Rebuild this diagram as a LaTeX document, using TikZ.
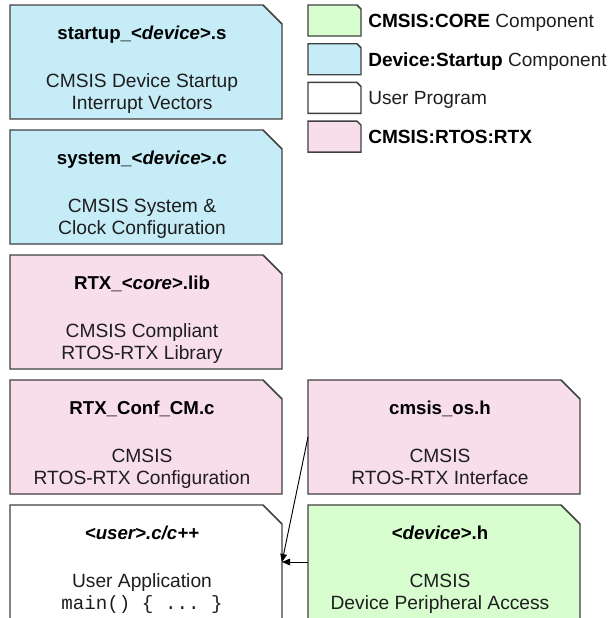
\documentclass[tikz,border=0pt]{standalone}
\usepackage{fontspec}
\setmainfont{Liberation Sans}
\setmonofont{Liberation Mono}
\usetikzlibrary{positioning,arrows.meta}

\definecolor{coreGreen}{RGB}{216,254,208}
\definecolor{startBlue}{RGB}{198,236,248}
\definecolor{rtxPink}{RGB}{248,221,235}
\definecolor{edgeGray}{RGB}{64,64,64}
\definecolor{textGray}{RGB}{30,30,30}

\tikzset{
  filebox/.style={rectangle, minimum width=204pt, minimum height=85.5pt, inner sep=0pt, outer sep=0pt},
  legendbox/.style={filebox, minimum width=39.75pt, minimum height=23.25pt},
  boxline/.style={draw=edgeGray, line width=1.1pt, line join=miter},
  boxtitle/.style={font=\bfseries\fontsize{14}{16.5}\selectfont, inner sep=0pt, anchor=base},
  boxtext/.style={font=\fontsize{14.4}{16.5}\selectfont, text=textGray, align=center, inner sep=0pt, anchor=base},
  legendtext/.style={font=\fontsize{14.3}{16.5}\selectfont, text=textGray, inner sep=0pt, anchor=base west},
  uses/.style={-{Triangle[length=6pt,width=5pt]}, line width=0.7pt, black}
}
% outline with the top right corner cut off
\newcommand{\cutbox}[3][14.25pt]{\filldraw[boxline, fill=#3] (#2.south west) -- (#2.north west)
  -- ([xshift=-#1]#2.north east) -- ([yshift=-#1]#2.north east) -- (#2.south east) -- cycle;}

\begin{document}
\begin{tikzpicture}
\useasboundingbox (0,0) rectangle (460.5pt,-463.5pt);
\clip (0,0) rectangle (460.5pt,-463.5pt);
% left column
\node[filebox] (startup) at (109.5pt,-46.5pt) {};
\node[filebox, below=8.25pt of startup] (system) {};
\node[filebox, below=8.25pt of system] (rtxlib) {};
\node[filebox, below=8.25pt of rtxlib] (rtxconf) {};
\node[filebox, below=8.25pt of rtxconf] (user) {};
% right column
\node[filebox, right=19.5pt of rtxconf] (cmsisos) {};
\node[filebox, right=19.5pt of user] (device) {};
\cutbox{startup}{startBlue}
\cutbox{system}{startBlue}
\cutbox{rtxlib}{rtxPink}
\cutbox{rtxconf}{rtxPink}
\cutbox{user}{white}
\cutbox{cmsisos}{rtxPink}
\cutbox{device}{coreGreen}
% texts
\path ([xshift=-3pt,yshift=-25.5pt]startup.north) node[boxtitle] (startupT) {startup\_<\textit{device}>.s};
\path ([xshift=-3pt,yshift=-78pt]startup.north) node[boxtext] (startupD) {CMSIS Device Startup\\Interrupt Vectors};
\path ([xshift=-3pt,yshift=-25.5pt]system.north) node[boxtitle] (systemT) {system\_<\textit{device}>.c};
\path ([xshift=-3pt,yshift=-78pt]system.north) node[boxtext] (systemD) {CMSIS System \&\\Clock Configuration};
\path ([xshift=-3pt,yshift=-25.5pt]rtxlib.north) node[boxtitle] (rtxlibT) {RTX\_<\textit{core}>.lib};
\path ([xshift=-3pt,yshift=-78pt]rtxlib.north) node[boxtext] (rtxlibD) {CMSIS Compliant\\RTOS-RTX Library};
\path ([xshift=-3pt,yshift=-25.5pt]rtxconf.north) node[boxtitle] (rtxconfT) {RTX\_Conf\_CM.c};
\path ([xshift=-3pt,yshift=-78pt]rtxconf.north) node[boxtext] (rtxconfD) {CMSIS\\RTOS-RTX Configuration};
\path ([xshift=-3pt,yshift=-25.5pt]user.north) node[boxtitle] (userT) {\itshape <user>.c/c++};
\path ([xshift=-3pt,yshift=-78pt]user.north) node[boxtext] (userD) {User Application\\\texttt{main() \{ ... \}}};
\path ([xshift=-3pt,yshift=-25.5pt]cmsisos.north) node[boxtitle] (cmsisosT) {cmsis\_os.h};
\path ([xshift=-3pt,yshift=-78pt]cmsisos.north) node[boxtext] (cmsisosD) {CMSIS\\RTOS-RTX Interface};
\path ([xshift=-3pt,yshift=-25.5pt]device.north) node[boxtitle] (deviceT) {<\textit{device}>.h};
\path ([xshift=-3pt,yshift=-78pt]device.north) node[boxtext] (deviceD) {CMSIS\\Device Peripheral Access};
% legend
\node[legendbox, anchor=north west] (keycore) at (231pt,-3.75pt) {};
\node[legendbox, below=5.8pt of keycore] (keystart) {};
\node[legendbox, below=5.8pt of keystart] (keyuser) {};
\node[legendbox, below=5.8pt of keyuser] (keyrtx) {};
\cutbox[3pt]{keycore}{coreGreen}
\cutbox[3pt]{keystart}{startBlue}
\cutbox[3pt]{keyuser}{white}
\cutbox[3pt]{keyrtx}{rtxPink}
\path ([xshift=5.25pt,yshift=-5.25pt]keycore.east) node[legendtext] (keycoreT) {\textbf{\color{black}CMSIS:CORE} Component};
\path ([xshift=5.25pt,yshift=-5.25pt]keystart.east) node[legendtext] (keystartT) {\textbf{\color{black}Device:Startup} Component};
\path ([xshift=5.25pt,yshift=-5.25pt]keyuser.east) node[legendtext] (keyuserT) {User Program};
\path ([xshift=5.25pt,yshift=-5.25pt]keyrtx.east) node[legendtext] (keyrtxT) {\textbf{\color{black}CMSIS:RTOS:RTX}};
% connectors
\draw[uses] (cmsisos.west) -- (user.east);
\draw[uses] (device.west) -- (user.east);
\end{tikzpicture}
\end{document}
